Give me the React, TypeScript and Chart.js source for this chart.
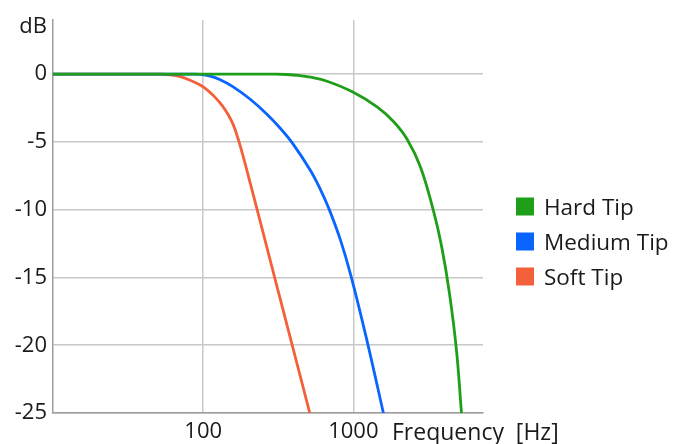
import React, { useEffect, useRef } from "react";
import { Chart, registerables } from "chart.js";

Chart.register(...registerables);

// ---- data ----
const seriesLabels = ["Hard Tip", "Medium Tip", "Soft Tip"];
const seriesColors = ["#1f9f19", "#0a64ff", "#f4603a"];

const hardFreq = [10, 302, 361.4, 430.3, 516.8, 668.1, 984.8, 1438.8, 1856.8, 2280.3, 2797.4, 3399.5, 3862, 4365, 4861, 5248];
const hardDb = [0, 0, -0.02, -0.09, -0.22, -0.52, -1.3, -2.41, -3.51, -4.8, -6.84, -10, -12.65, -16.17, -20.38, -25];

const mediumFreq = [10, 70, 82, 95.5, 111.3, 129.8, 158.5, 205.8, 265.9, 326.1, 392, 516.8, 602.6, 681.3, 819.1, 970, 1240, 1585];
const mediumDb = [0, 0, 0, -0.02, -0.14, -0.41, -0.93, -1.85, -2.95, -3.99, -5.07, -7.09, -8.49, -9.81, -12.21, -14.99, -19.79, -25];

const softFreq = [10, 38, 51.7, 60.3, 70.3, 81.9, 95.5, 107.2, 120.2, 133.9, 146.8, 158.5, 171.1, 184.8, 205.8, 302, 512.9];
const softDb = [0, 0, 0, -0.04, -0.18, -0.44, -0.8, -1.19, -1.71, -2.32, -2.99, -3.72, -4.79, -6.08, -8.04, -15.17, -25];

const xTicks = [100, 1000];
const yTicks = [0, -5, -10, -15, -20, -25];
const xMin = 10;
const xMax = 7300;
const yMin = -25;
const yMax = 4;
const yUnit = "dB";
const xTitle = "Frequency  [Hz]";

// ---- styles ----
const FONT_FAMILY = '"Open Sans", "Noto Sans", sans-serif';
const FONT_SIZE = 22;
const TEXT_COLOR = "#1a1a1a";
const GRID_COLOR = "#c8c8c8";
const AXIS_COLOR = "#9c9c9c";

const freqs = [hardFreq, mediumFreq, softFreq];
const dbs = [hardDb, mediumDb, softDb];

const annotationPlugin = {
  id: "annotations",
  afterDraw(chart: any) {
    const { ctx, chartArea } = chart;
    ctx.save();
    ctx.fillStyle = TEXT_COLOR;
    ctx.textBaseline = "alphabetic";
    // unit label at top of y axis
    ctx.font = `${FONT_SIZE}px ${FONT_FAMILY}`;
    ctx.textAlign = "right";
    ctx.fillText(yUnit, chartArea.left - 6, 33);
    // x axis title beside the tick labels
    ctx.font = `23px ${FONT_FAMILY}`;
    ctx.textAlign = "left";
    ctx.fillText(xTitle, 392, 440);
    // legend
    ctx.font = `22.5px ${FONT_FAMILY}`;
    chart.data.datasets.forEach((ds: any, i: number) => {
      const cy = 206.5 + i * 35;
      ctx.fillStyle = ds.borderColor;
      ctx.fillRect(516, cy - 9, 18, 18);
      ctx.fillStyle = TEXT_COLOR;
      ctx.fillText(ds.label, 544, cy + 8);
    });
    ctx.restore();
  },
};

export default function App() {
  const canvasRef = useRef<HTMLCanvasElement | null>(null);

  useEffect(() => {
    const canvas = canvasRef.current;
    if (!canvas) return;
    const chart = new Chart(canvas, {
      type: "line",
      data: {
        datasets: seriesLabels.map((label, i) => ({
          label,
          data: freqs[i].map((f, j) => ({ x: f, y: dbs[i][j] })),
          borderColor: seriesColors[i],
          backgroundColor: seriesColors[i],
          borderWidth: 2.8,
          pointRadius: 0,
          tension: 0.4,
          fill: false,
        })),
      },
      options: {
        responsive: false,
        animation: false,
        events: [],
        layout: { padding: { top: 20, right: 194, left: 0, bottom: 0 } },
        plugins: {
          legend: { display: false },
          tooltip: { enabled: false },
        },
        scales: {
          x: {
            type: "logarithmic",
            min: xMin,
            max: xMax,
            afterBuildTicks: (s: any) => {
              s.ticks = xTicks.map((v) => ({ value: v }));
            },
            afterFit: (s: any) => {
              s.height = 31;
            },
            grid: { color: GRID_COLOR, lineWidth: 1.5, drawTicks: false },
            border: { color: AXIS_COLOR, width: 1.5 },
            ticks: {
              padding: 6,
              autoSkip: false,
              maxRotation: 0,
              color: TEXT_COLOR,
              font: { family: FONT_FAMILY, size: FONT_SIZE },
              callback: (v: any) => String(v),
            },
          },
          y: {
            type: "linear",
            min: yMin,
            max: yMax,
            afterBuildTicks: (s: any) => {
              s.ticks = yTicks.map((v) => ({ value: v }));
            },
            afterFit: (s: any) => {
              s.width = 53;
            },
            grid: { color: GRID_COLOR, lineWidth: 1.5, drawTicks: false },
            border: { color: AXIS_COLOR, width: 1.5 },
            ticks: {
              padding: 6,
              color: TEXT_COLOR,
              font: { family: FONT_FAMILY, size: FONT_SIZE },
              callback: (v: any) => String(v),
            },
          },
        },
      },
      plugins: [annotationPlugin],
    });
    return () => chart.destroy();
  }, []);

  return (
    <div style={{ position: "absolute", left: 0, top: 0, width: 677, height: 444, background: "#ffffff" }}>
      <canvas ref={canvasRef} width={677} height={444} />
    </div>
  );
}
